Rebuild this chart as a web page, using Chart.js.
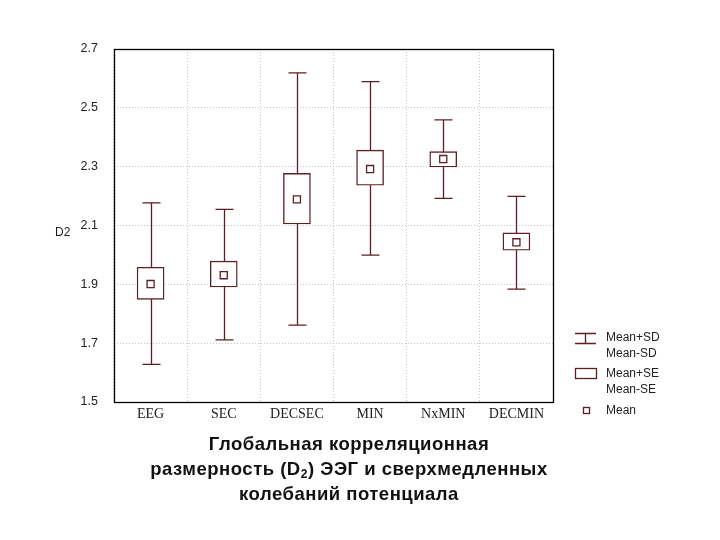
<!DOCTYPE html>
<html>
<head>
<meta charset="utf-8">
<script src="https://cdn.jsdelivr.net/npm/chart.js@4.4.1/dist/chart.umd.min.js"></script>
<style>
  body { margin:0; background:#fff; }
  #wrap { position:relative; width:720px; height:540px; }
  #caption {
    position:absolute; left:-1px; top:431px; width:700px; text-align:center;
    font:bold 18.5px "Liberation Sans", Arial, sans-serif; line-height:25px; color:#111;
    letter-spacing:0.5px;
  }
  #caption sub { font-size:12px; vertical-align:-3px; line-height:0; }
</style>
</head>
<body>
<div id="wrap">
  <canvas id="chart" width="720" height="540"></canvas>
  <div id="caption">Глобальная корреляционная<br>размерность (D<sub>2</sub>) ЭЭГ и сверхмедленных<br>колебаний потенциала</div>
</div>
<script>
const groups = ['EEG','SEC','DECSEC','MIN','NxMIN','DECMIN'];
const means  = [1.901, 1.931, 2.189, 2.292, 2.326, 2.043];
const seLow  = [1.849, 1.891, 2.105, 2.237, 2.299, 2.016];
const seHigh = [1.958, 1.979, 2.277, 2.356, 2.351, 2.075];
const sdLow  = [1.628, 1.711, 1.761, 1.999, 2.192, 1.884];
const sdHigh = [2.177, 2.155, 2.619, 2.589, 2.459, 2.199];
const yTicks = [1.5, 1.7, 1.9, 2.1, 2.3, 2.5, 2.7];

const maroon = '#5c1f22';

// whiskers under the boxes
const whiskers = {
  id:'whiskers',
  beforeDatasetsDraw(chart) {
    const ctx = chart.ctx, x = chart.scales.x, y = chart.scales.y;
    ctx.save();
    ctx.strokeStyle = maroon;
    ctx.lineWidth = 1.3;
    groups.forEach((g,i)=>{
      const cx = Math.round(x.getPixelForValue(i)) + 0.5;
      const top = y.getPixelForValue(sdHigh[i]);
      const bot = y.getPixelForValue(sdLow[i]);
      ctx.beginPath();
      ctx.moveTo(cx, top); ctx.lineTo(cx, bot);
      ctx.moveTo(cx-9, top); ctx.lineTo(cx+9, top);
      ctx.moveTo(cx-9, bot); ctx.lineTo(cx+9, bot);
      ctx.stroke();
    });
    ctx.restore();
  }
};

// frame, axis title and legend
const extras = {
  id:'extras',
  afterDraw(chart) {
    const ctx = chart.ctx, a = chart.chartArea;
    ctx.save();
    ctx.strokeStyle = '#000';
    ctx.lineWidth = 1.3;
    ctx.strokeRect(Math.round(a.left)+0.5, Math.round(a.top)+0.5, Math.round(a.right-a.left), Math.round(a.bottom-a.top));

    ctx.fillStyle = '#222';
    ctx.font = '12px "Liberation Sans", Arial, sans-serif';
    ctx.textBaseline = 'middle';
    ctx.textAlign = 'left';
    ctx.fillText('D2', 55, 233);

    // legend
    ctx.strokeStyle = maroon;
    ctx.lineWidth = 1.3;
    ctx.beginPath();
    ctx.moveTo(575, 333.5); ctx.lineTo(596, 333.5);
    ctx.moveTo(585.5, 333.5); ctx.lineTo(585.5, 343.5);
    ctx.moveTo(575, 343.5); ctx.lineTo(596, 343.5);
    ctx.stroke();
    ctx.strokeRect(575.5, 368.5, 21, 10);
    ctx.strokeRect(583.5, 407.5, 6, 6);
    ctx.fillText('Mean+SD', 606, 338);
    ctx.fillText('Mean-SD', 606, 354);
    ctx.fillText('Mean+SE', 606, 374);
    ctx.fillText('Mean-SE', 606, 390);
    ctx.fillText('Mean', 606, 411);
    ctx.restore();
  }
};

new Chart(document.getElementById('chart').getContext('2d'), {
  data: {
    labels: groups,
    datasets: [
      {
        type:'bar',
        data: groups.map((g,i)=>[seLow[i], seHigh[i]]),
        backgroundColor:'#fff',
        borderColor: maroon,
        borderWidth:1.4,
        borderSkipped:false,
        barThickness:27,
        order:2
      },
      {
        type:'line',
        data: means,
        showLine:false,
        pointStyle:'rect',
        pointRadius:5,
        pointBackgroundColor:'#fff',
        pointBorderColor: maroon,
        pointBorderWidth:1.3,
        order:1
      }
    ]
  },
  options: {
    responsive:false,
    animation:false,
    layout:{ padding:{ left:0, right:167, top:49, bottom:0 } },
    plugins:{ legend:{display:false}, tooltip:{enabled:false} },
    scales:{
      x:{
        type:'category',
        offset:true,
        grid:{ offset:true, color:'#c4c4c4', drawTicks:false },
        border:{ display:false, dash:[1,2] },
        ticks:{ color:'#222', padding:4, font:{ family:'"Liberation Serif", "Times New Roman", serif', size:14 } },
        afterFit(s){ s.height = 138; }
      },
      y:{
        min:1.5, max:2.7,
        afterBuildTicks(s){ s.ticks = yTicks.map(v=>({value:v})); },
        grid:{ color:'#c4c4c4', drawTicks:false },
        border:{ display:false, dash:[1,2] },
        ticks:{ color:'#222', padding:16, callback:v=>v.toFixed(1), font:{ family:'"Liberation Sans", Arial, sans-serif', size:12.5 } },
        afterFit(s){ s.width = 114; }
      }
    }
  },
  plugins:[whiskers, extras]
});
</script>
</body>
</html>
